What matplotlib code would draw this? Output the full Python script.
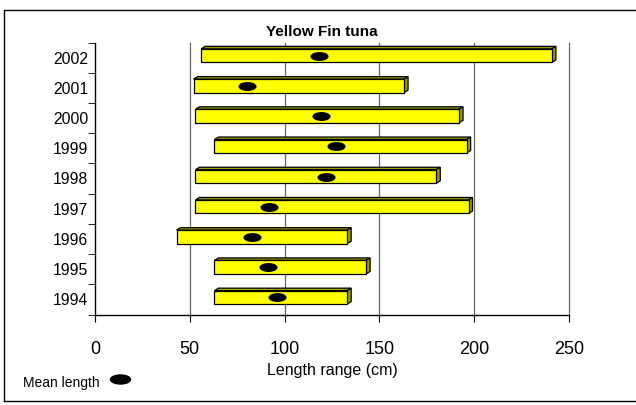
import matplotlib
matplotlib.use("Agg")
import matplotlib.pyplot as plt
from matplotlib.patches import Polygon, Rectangle
from matplotlib.path import Path
from matplotlib.transforms import Affine2D
from matplotlib.lines import Line2D

plt.rcParams['font.family'] = ['Liberation Sans', 'DejaVu Sans']

years = ['1994', '1995', '1996', '1997', '1998', '1999', '2000', '2001', '2002']
min_len = [63, 63, 43, 53, 53, 63, 53, 52, 56]
max_len = [133, 143, 133, 197, 180, 196, 192, 163, 241]
mean_len = [96, 91, 83, 92, 122, 127, 119, 80, 118]

W, H = 636, 405
fig = plt.figure(figsize=(W / 100, H / 100), dpi=100)
ax = fig.add_axes([95 / W, 1 - 314.5 / H, 474 / W, 272 / H])
ax.set_xlim(0, 250)
ax.set_ylim(-0.5, len(years) - 0.5)

# pixel sizes -> data units for the fake 3D depth
px_x = 250 / 474
px_y = len(years) / 272
dx, dy = 4 * px_x, 2.5 * px_y
h = 13.5 * px_y
lift = 2 * px_y

face = '#ffff00'
shade = '#9a9a00'

for i, (lo, hi) in enumerate(zip(min_len, max_len)):
    y0 = i - h / 2 + lift
    y1 = y0 + h
    top = Polygon([(lo, y1), (lo + dx, y1 + dy), (hi + dx, y1 + dy), (hi, y1)],
                  closed=True, facecolor=shade, edgecolor='black', lw=0.9, zorder=3)
    side = Polygon([(hi, y0), (hi + dx, y0 + dy), (hi + dx, y1 + dy), (hi, y1)],
                   closed=True, facecolor=shade, edgecolor='black', lw=0.9, zorder=3)
    front = Rectangle((lo, y0), hi - lo, h, facecolor=face, edgecolor='black',
                      lw=0.9, zorder=4)
    ax.add_patch(top)
    ax.add_patch(side)
    ax.add_patch(front)

# flat ellipse marker for the mean
oval = Path.unit_circle().transformed(Affine2D().scale(1, 0.45))
ax.plot(mean_len, [i + lift for i in range(len(years))], linestyle='none',
        marker=oval, markersize=12, color='black', zorder=5)

fig.text(322 / W, 1 - 36.5 / H, 'Yellow Fin tuna', fontsize=11, fontweight='bold',
         ha='center', va='baseline')
ax.set_xticks(range(0, 251, 50))
ax.tick_params(axis='x', labelsize=13, length=5, direction='out', pad=14)
ax.set_yticks(range(len(years)))
ax.set_yticklabels(years)
ax.tick_params(axis='y', which='major', length=0, labelsize=11.3, pad=5)
ax.set_yticks([i - 0.5 for i in range(len(years) + 1)], minor=True)
ax.tick_params(axis='y', which='minor', length=5, direction='out')
ax.set_xlabel('Length range (cm)', fontsize=11.5, labelpad=4)

for x in range(50, 251, 50):
    ax.axvline(x, color='#666666', lw=0.9, zorder=1, clip_on=False)

ax.spines['top'].set_visible(False)
ax.spines['right'].set_visible(False)
for s in ('left', 'bottom'):
    ax.spines[s].set_linewidth(1.0)

# legend entry for the mean marker
fig.text(23 / W, 1 - 387 / H, 'Mean length', fontsize=10, va='baseline')
fig.add_artist(Line2D([120 / W], [1 - 378.7 / H], marker=oval, markersize=14.4,
                      color='black', linestyle='none', transform=fig.transFigure))

# chart frame
fig.add_artist(Line2D([4 / W, 4 / W, 1.01, 1.01, 4 / W],
                      [1 - 401 / H, 1 - 10 / H, 1 - 10 / H, 1 - 401 / H, 1 - 401 / H],
                      color='black', lw=1.0, transform=fig.transFigure))

fig.savefig('out.png', dpi=100)
